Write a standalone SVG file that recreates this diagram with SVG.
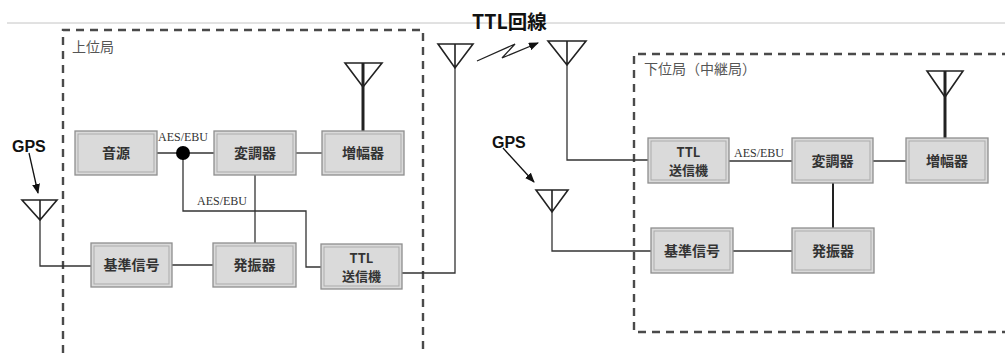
<svg xmlns="http://www.w3.org/2000/svg" width="1005" height="353" viewBox="0 0 1005 353">
<style>
.box{fill:#dadada;stroke:#8e8e8e;stroke-width:1.3}
.inner{fill:none;stroke:#ababab;stroke-width:1}
.lbl{font-family:"Noto Sans CJK JP","Noto Sans",sans-serif;font-weight:bold;font-size:14px;fill:#333;text-anchor:middle}
.ttl{font-family:"Noto Sans CJK JP","Noto Sans",sans-serif;font-weight:bold;font-size:13px;fill:#333;text-anchor:middle}
.aes{font-family:"Liberation Serif",serif;font-size:12px;fill:#333}
.gps{font-family:"Liberation Sans",Arial,sans-serif;font-weight:bold;font-size:16px;fill:#111}
.station{font-family:"Noto Sans CJK JP","Noto Sans",sans-serif;font-size:14px;fill:#555}
.dash{fill:none;stroke:#4a4a4a;stroke-width:2.4;stroke-dasharray:8,6}
.wire{fill:none;stroke:#333;stroke-width:1.3}
.ant{fill:none;stroke:#222;stroke-width:1.6}
.thick{stroke:#222;stroke-width:3}
</style>
<defs>
<marker id="ah" markerWidth="10" markerHeight="8" refX="9" refY="4" orient="auto" markerUnits="userSpaceOnUse">
<path d="M0,0 L10,4 L0,8 z" fill="#111"/>
</marker>
</defs>
<rect width="1005" height="353" fill="#fff"/>
<line x1="7" y1="23" x2="1005" y2="23" stroke="#c4c4c4" stroke-width="1"/>

<g id="upper-station">
<path class="dash" d="M63,353 V30 H423 V353"/>
<text class="station" x="72" y="52">上位局</text>
</g>
<g id="lower-station">
<path class="dash" d="M1010,54 H634 V332 H1010"/>
<text class="station" x="644" y="74">下位局（中継局）</text>
</g>

<g id="title">
<text x="472" y="29" font-family="Noto Sans CJK JP,Noto Sans,sans-serif" font-weight="bold" font-size="19.5" fill="#111">TTL回線</text>
</g>

<g id="connectors">
<path class="wire" d="M157,153 H214"/>
<path class="wire" d="M296,153 H322"/>
<path class="wire" d="M183,153 V211 H306 V267 H321"/>
<path class="wire" d="M255,175 V243"/>
<path class="wire" d="M172,265 H213"/>
<path class="wire" d="M40,220 V266 H91"/>
<path class="wire" d="M402,273 H455 V68"/>
<line class="thick" x1="363" y1="63" x2="363" y2="131"/>
<circle cx="183" cy="153" r="7" fill="#000"/>
<path class="wire" d="M567,65 V160 H648"/>
<path class="wire" d="M729,161 H792"/>
<path class="wire" d="M873,161 H906"/>
<line x1="833" y1="183" x2="833" y2="228" stroke="#222" stroke-width="2"/>
<path class="wire" d="M552,212 V251 H651"/>
<path class="wire" d="M733,251 H792"/>
<line class="thick" x1="945" y1="71" x2="945" y2="138"/>
<line x1="29" y1="153" x2="38" y2="193" stroke="#111" stroke-width="1.3" marker-end="url(#ah)"/>
<line x1="503" y1="148" x2="534" y2="182" stroke="#111" stroke-width="1.3" marker-end="url(#ah)"/>
<polyline points="477,61 515,44 502,58 538,43" fill="none" stroke="#222" stroke-width="1.3" marker-end="url(#ah)"/>
</g>

<g id="antennas">
<g id="ant-amp-upper"><path class="ant" d="M345,63 H382 L363,87 Z M363,63 V87"/></g>
<g id="ant-gps-upper"><path class="ant" d="M22,200 H57 L40,220 Z M40,200 V220"/></g>
<g id="ant-ttl-tx"><path class="ant" d="M438,44 H473 L455,68 Z M455,44 V68"/></g>
<g id="ant-ttl-rx"><path class="ant" d="M548,41 H586 L567,65 Z M567,41 V65"/></g>
<g id="ant-gps-lower"><path class="ant" d="M536,190 H568 L552,212 Z M552,190 V212"/></g>
<g id="ant-amp-lower"><path class="ant" d="M927,71 H963 L945,97 Z M945,71 V97"/></g>
</g>

<g id="labels">
<text class="gps" x="12" y="152">GPS</text>
<text class="gps" x="492" y="148">GPS</text>
<text class="aes" x="158" y="141">AES/EBU</text>
<text class="aes" x="197" y="205">AES/EBU</text>
<text class="aes" x="734" y="157">AES/EBU</text>
</g>

<g id="n-ongen">
<rect class="box" x="75" y="131" width="82" height="44"/><rect class="inner" x="78" y="134" width="76" height="38"/>
<text class="lbl" x="116" y="158">音源</text>
</g>
<g id="n-mod-upper">
<rect class="box" x="214" y="131" width="82" height="44"/><rect class="inner" x="217" y="134" width="76" height="38"/>
<text class="lbl" x="255" y="158">変調器</text>
</g>
<g id="n-amp-upper">
<rect class="box" x="322" y="131" width="82" height="44"/><rect class="inner" x="325" y="134" width="76" height="38"/>
<text class="lbl" x="363" y="158">増幅器</text>
</g>
<g id="n-ref-upper">
<rect class="box" x="91" y="243" width="81" height="44"/><rect class="inner" x="94" y="246" width="75" height="38"/>
<text class="lbl" x="131.5" y="270">基準信号</text>
</g>
<g id="n-osc-upper">
<rect class="box" x="213" y="243" width="83" height="44"/><rect class="inner" x="216" y="246" width="77" height="38"/>
<text class="lbl" x="254.5" y="270">発振器</text>
</g>
<g id="n-ttl-upper">
<rect class="box" x="321" y="244" width="81" height="45"/><rect class="inner" x="324" y="247" width="75" height="39"/>
<text class="ttl" x="361.5" y="263">TTL</text>
<text class="ttl" x="361.5" y="281">送信機</text>
</g>

<g id="n-ttl-lower">
<rect class="box" x="648" y="138" width="81" height="45"/><rect class="inner" x="651" y="141" width="75" height="39"/>
<text class="ttl" x="688.5" y="157">TTL</text>
<text class="ttl" x="688.5" y="175">送信機</text>
</g>
<g id="n-mod-lower">
<rect class="box" x="792" y="138" width="81" height="45"/><rect class="inner" x="795" y="141" width="75" height="39"/>
<text class="lbl" x="832.5" y="166">変調器</text>
</g>
<g id="n-amp-lower">
<rect class="box" x="906" y="138" width="82" height="45"/><rect class="inner" x="909" y="141" width="76" height="39"/>
<text class="lbl" x="947" y="166">増幅器</text>
</g>
<g id="n-ref-lower">
<rect class="box" x="651" y="228" width="82" height="45"/><rect class="inner" x="654" y="231" width="76" height="39"/>
<text class="lbl" x="692" y="256">基準信号</text>
</g>
<g id="n-osc-lower">
<rect class="box" x="792" y="228" width="82" height="45"/><rect class="inner" x="795" y="231" width="76" height="39"/>
<text class="lbl" x="833" y="256">発振器</text>
</g>
</svg>
